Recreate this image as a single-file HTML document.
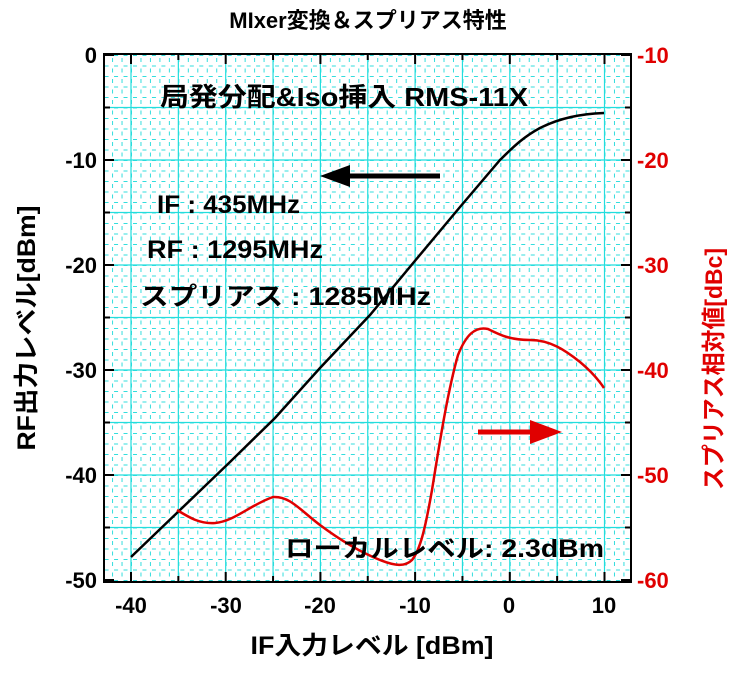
<!DOCTYPE html>
<html><head><meta charset="utf-8"><style>
html,body{margin:0;padding:0;background:#fff;}
svg text{font-family:"Liberation Sans","Noto Sans CJK JP",sans-serif;font-weight:bold;}
</style></head><body>
<svg width="736" height="671" viewBox="0 0 736 671" xmlns="http://www.w3.org/2000/svg">
<defs>
<clipPath id="c"><rect x="104" y="54" width="527" height="528"/></clipPath>
<pattern id="mg" patternUnits="userSpaceOnUse" x="131" y="55" width="9.47" height="10.5">
<line x1="0.5" y1="3" x2="0.5" y2="7" stroke="#33dddd" stroke-width="1"/>
<line x1="2" y1="0.5" x2="6" y2="0.5" stroke="#33dddd" stroke-width="1"/>
</pattern>
</defs>
<rect x="104" y="54" width="527" height="528" fill="url(#mg)"/>
<g stroke="#22dddd" stroke-width="1.2" clip-path="url(#c)">
<line x1="131" y1="54" x2="131" y2="582"/><line x1="178.35" y1="54" x2="178.35" y2="582"/><line x1="225.7" y1="54" x2="225.7" y2="582"/><line x1="273.05" y1="54" x2="273.05" y2="582"/><line x1="320.4" y1="54" x2="320.4" y2="582"/><line x1="367.75" y1="54" x2="367.75" y2="582"/><line x1="415.1" y1="54" x2="415.1" y2="582"/><line x1="462.45" y1="54" x2="462.45" y2="582"/><line x1="509.8" y1="54" x2="509.8" y2="582"/><line x1="557.15" y1="54" x2="557.15" y2="582"/><line x1="604.5" y1="54" x2="604.5" y2="582"/>
<line x1="104" y1="107.5" x2="631" y2="107.5"/><line x1="104" y1="160" x2="631" y2="160"/><line x1="104" y1="212.5" x2="631" y2="212.5"/><line x1="104" y1="265" x2="631" y2="265"/><line x1="104" y1="317.5" x2="631" y2="317.5"/><line x1="104" y1="370" x2="631" y2="370"/><line x1="104" y1="422.5" x2="631" y2="422.5"/><line x1="104" y1="475" x2="631" y2="475"/><line x1="104" y1="527.5" x2="631" y2="527.5"/>
</g>
<g stroke="#000" stroke-width="2">
<path d="M131,582v-10M178.35,582v-6M225.7,582v-10M273.05,582v-6M320.4,582v-10M367.75,582v-6M415.1,582v-10M462.45,582v-6M509.8,582v-10M557.15,582v-6M604.5,582v-10"/>
<path d="M131,54v10M178.35,54v6M225.7,54v10M273.05,54v6M320.4,54v10M367.75,54v6M415.1,54v10M462.45,54v6M509.8,54v10M557.15,54v6M604.5,54v10"/>
<path d="M104,55h10M104,107.5h6M104,160h10M104,212.5h6M104,265h10M104,317.5h6M104,370h10M104,422.5h6M104,475h10M104,527.5h6M104,580h10"/>
<path d="M631,55h-10M631,107.5h-6M631,160h-10M631,212.5h-6M631,265h-10M631,317.5h-6M631,370h-10M631,422.5h-6M631,475h-10M631,527.5h-6M631,580h-10"/>
</g>
<rect x="104" y="54" width="527" height="528" fill="none" stroke="#000" stroke-width="2"/>
<path d="M131,557 L180,510 L230,462 L275,418 L320,368 L370,315 L414,262 L460,207 L500,160 C515,145 525,136 540,128 C560,118 580,114 604,113" fill="none" stroke="#000" stroke-width="2.5"/>
<path d="M177,510 C190,518 200,524 215,523 C235,521 250,505 273,497 C290,496 300,510 320,525 C340,540 360,552 380,560 C395,566 405,567 412,560 C420,550 425,530 432,490 C440,440 448,390 458,355 C466,335 475,326 488,329 C500,335 510,340 530,340 C550,340 565,350 580,362 C592,372 600,382 604,388" fill="none" stroke="#e00000" stroke-width="2.5"/>
<line x1="440" y1="176" x2="345" y2="176" stroke="#000" stroke-width="5"/>
<polygon points="320,176 350,165 350,187" fill="#000"/>
<line x1="478" y1="432" x2="535" y2="432" stroke="#e00000" stroke-width="5"/>
<polygon points="562,432 530,420 530,444" fill="#e00000"/>
<g font-size="22" fill="#000" text-anchor="end">
<text x="97" y="63">0</text><text x="97" y="168">-10</text><text x="97" y="273">-20</text><text x="97" y="378">-30</text><text x="97" y="483">-40</text><text x="97" y="588">-50</text>
</g>
<g font-size="22" fill="#e00000" text-anchor="start">
<text x="637" y="63">-10</text><text x="637" y="168">-20</text><text x="637" y="273">-30</text><text x="637" y="378">-40</text><text x="637" y="483">-50</text><text x="637" y="588">-60</text>
</g>
<g font-size="22" fill="#000" text-anchor="middle">
<text x="131" y="613">-40</text><text x="226" y="613">-30</text><text x="320" y="613">-20</text><text x="415" y="613">-10</text><text x="509" y="613">0</text><text x="604" y="613">10</text>
</g>
<text x="368" y="28" font-size="22" text-anchor="middle">MIxer変換＆スプリアス特性</text>
<text x="160" y="106" font-size="26" textLength="368" lengthAdjust="spacingAndGlyphs">局発分配&amp;Iso挿入 RMS-11X</text>
<text x="157" y="213" font-size="25" textLength="143" lengthAdjust="spacingAndGlyphs">IF : 435MHz</text>
<text x="147" y="258" font-size="25" textLength="176" lengthAdjust="spacingAndGlyphs">RF : 1295MHz</text>
<text x="140" y="305" font-size="25" textLength="291" lengthAdjust="spacingAndGlyphs">スプリアス : 1285MHz</text>
<text x="285" y="557" font-size="25" textLength="319" lengthAdjust="spacingAndGlyphs">ローカルレベル: 2.3dBm</text>
<text x="372" y="654" font-size="25" text-anchor="middle" textLength="243" lengthAdjust="spacingAndGlyphs">IF入力レベル [dBm]</text>
<text transform="translate(35,328) rotate(-90)" font-size="25" text-anchor="middle" textLength="245" lengthAdjust="spacingAndGlyphs">RF出力レベル[dBm]</text>
<text transform="translate(722,369) rotate(-90)" font-size="24" fill="#e00000" text-anchor="middle" textLength="242" lengthAdjust="spacingAndGlyphs">スプリアス相対値[dBc]</text>
</svg>
</body></html>
